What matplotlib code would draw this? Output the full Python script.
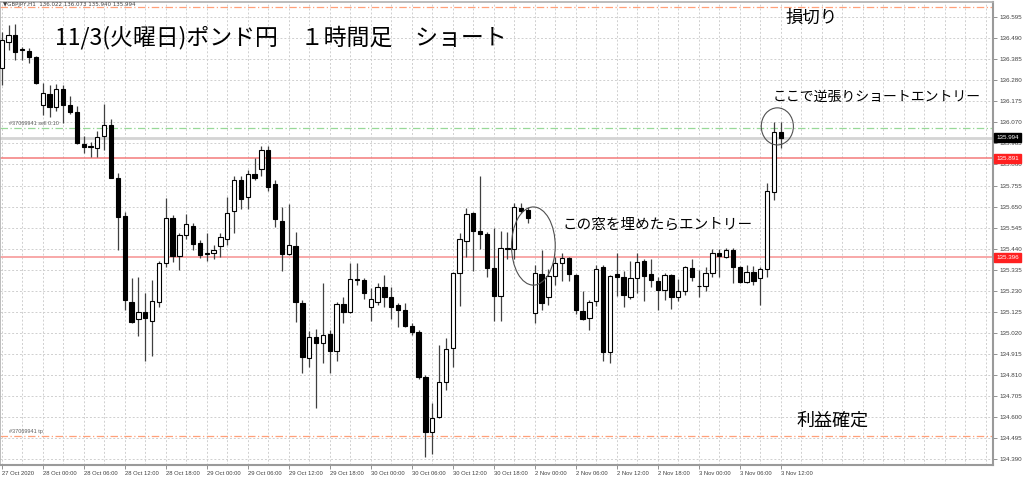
import numpy as np
import matplotlib
matplotlib.use("Agg")
import matplotlib.pyplot as plt
import matplotlib.transforms as mtransforms
from matplotlib.patches import Ellipse

plt.rcParams['font.family'] = ['Noto Sans CJK JP', 'DejaVu Sans']

# GBPJPY H1, 27 Oct 18:00 -> 3 Nov 12:00 (115 bars)
opens = [136.340, 136.473, 136.507, 136.434, 136.428, 136.395, 136.157, 136.211, 136.146, 136.236,
         136.156, 136.122, 135.962, 135.949, 135.944, 136.002, 136.057, 135.794, 135.603, 135.175,
         135.089, 135.122, 135.080, 135.172, 135.367, 135.591, 135.403, 135.507, 135.555, 135.467,
         135.412, 135.420, 135.453, 135.490, 135.630, 135.780, 135.696, 135.810, 135.836, 135.933,
         135.761, 135.580, 135.413, 135.455, 135.167, 134.895, 135.000, 134.967, 135.014, 134.930,
         135.163, 135.122, 135.290, 135.283, 135.147, 135.175, 135.247, 135.200, 135.158, 135.133,
         135.055, 135.025, 134.800, 134.523, 134.598, 134.776, 134.942, 135.317, 135.478, 135.616,
         135.528, 135.512, 135.345, 135.203, 135.440, 135.437, 135.644, 135.633, 135.120, 135.313,
         135.200, 135.304, 135.367, 135.395, 135.308, 135.130, 135.092, 135.178, 135.347, 134.926,
         135.313, 135.297, 135.200, 135.292, 135.378, 135.313, 135.280, 135.233, 135.308, 135.200,
         135.230, 135.342, 135.255, 135.253, 135.320, 135.420, 135.400, 135.434, 135.347, 135.275,
         135.325, 135.292, 135.337, 135.722, 136.022]
highs = [136.523, 136.557, 136.562, 136.448, 136.440, 136.400, 136.265, 136.257, 136.260, 136.257,
         136.200, 136.150, 136.002, 135.974, 136.029, 136.161, 136.086, 135.816, 135.624, 135.292,
         135.300, 135.217, 135.283, 135.380, 135.691, 135.608, 135.517, 135.612, 135.566, 135.483,
         135.517, 135.460, 135.517, 135.700, 135.800, 135.800, 135.830, 135.890, 135.950, 135.950,
         135.783, 135.650, 135.663, 135.525, 135.183, 135.029, 135.037, 135.267, 135.034, 135.175,
         135.200, 135.370, 135.370, 135.292, 135.242, 135.267, 135.308, 135.247, 135.167, 135.167,
         135.070, 135.035, 134.809, 134.668, 134.959, 134.992, 135.325, 135.517, 135.641, 135.625,
         135.800, 135.525, 135.542, 135.530, 135.525, 135.666, 135.666, 135.650, 135.358, 135.433,
         135.340, 135.400, 135.420, 135.400, 135.313, 135.230, 135.183, 135.360, 135.358, 135.308,
         135.417, 135.330, 135.380, 135.417, 135.390, 135.390, 135.300, 135.317, 135.313, 135.290,
         135.355, 135.390, 135.334, 135.350, 135.437, 135.440, 135.445, 135.445, 135.355, 135.360,
         135.355, 135.350, 135.766, 136.074, 136.073]
lows = [136.257, 136.432, 136.382, 136.382, 136.365, 136.262, 136.107, 136.099, 136.125, 136.069,
        136.110, 135.960, 135.919, 135.899, 135.899, 135.932, 135.791, 135.433, 135.134, 135.070,
        135.003, 134.880, 134.904, 135.150, 135.350, 135.375, 135.333, 135.490, 135.433, 135.392,
        135.380, 135.390, 135.400, 135.460, 135.520, 135.640, 135.640, 135.780, 135.800, 135.729,
        135.550, 135.330, 135.410, 135.075, 134.820, 134.850, 134.643, 134.870, 134.820, 134.880,
        135.070, 135.117, 135.260, 135.187, 135.080, 135.158, 135.150, 135.087, 135.047, 135.047,
        135.010, 134.790, 134.400, 134.415, 134.593, 134.734, 134.850, 135.153, 135.400, 135.330,
        135.440, 135.297, 135.080, 135.080, 135.390, 135.390, 135.620, 135.566, 135.067, 135.133,
        135.160, 135.260, 135.280, 135.280, 135.115, 135.083, 135.032, 135.155, 134.880, 134.870,
        135.203, 135.150, 135.190, 135.220, 135.180, 135.250, 135.133, 135.183, 135.140, 135.180,
        135.210, 135.280, 135.197, 135.230, 135.300, 135.300, 135.395, 135.270, 135.270, 135.270,
        135.260, 135.158, 135.300, 135.683, 135.940]
closes = [136.482, 136.507, 136.423, 136.430, 136.395, 136.268, 136.219, 136.149, 136.236, 136.157,
          136.122, 135.966, 135.949, 135.951, 135.999, 136.057, 135.794, 135.599, 135.184, 135.075,
          135.125, 135.092, 135.180, 135.367, 135.591, 135.403, 135.507, 135.562, 135.463, 135.408,
          135.418, 135.432, 135.496, 135.620, 135.780, 135.690, 135.814, 135.790, 135.933, 135.749,
          135.588, 135.412, 135.458, 135.175, 134.900, 134.997, 134.967, 135.010, 134.930, 135.163,
          135.125, 135.287, 135.283, 135.220, 135.187, 135.247, 135.200, 135.147, 135.133, 135.055,
          135.025, 134.800, 134.526, 134.596, 134.776, 134.939, 135.317, 135.488, 135.611, 135.528,
          135.512, 135.345, 135.205, 135.442, 135.442, 135.646, 135.630, 135.592, 135.320, 135.167,
          135.302, 135.367, 135.395, 135.313, 135.133, 135.088, 135.175, 135.337, 134.926, 135.303,
          135.300, 135.208, 135.292, 135.375, 135.303, 135.283, 135.233, 135.308, 135.200, 135.230,
          135.347, 135.300, 135.253, 135.320, 135.417, 135.403, 135.434, 135.350, 135.275, 135.325,
          135.280, 135.337, 135.728, 136.021, 135.994]

tick_idx = list(range(0, 115, 6))
tick_labels = ["27 Oct 2020", "28 Oct 00:00", "28 Oct 06:00", "28 Oct 12:00", "28 Oct 18:00",
               "29 Oct 00:00", "29 Oct 06:00", "29 Oct 12:00", "29 Oct 18:00", "30 Oct 00:00",
               "30 Oct 06:00", "30 Oct 12:00", "30 Oct 18:00", "2 Nov 00:00", "2 Nov 06:00",
               "2 Nov 12:00", "2 Nov 18:00", "3 Nov 00:00", "3 Nov 06:00", "3 Nov 12:00"]
price_ticks = [136.595, 136.490, 136.385, 136.280, 136.175, 136.070, 135.965, 135.860, 135.755,
               135.650, 135.545, 135.440, 135.335, 135.230, 135.125, 135.020, 134.915, 134.810,
               134.705, 134.600, 134.495, 134.390]

entry_price = 136.041
stop_price = 136.648
tp_price = 134.505
bid_price = 135.994
red_levels = [135.891, 135.396]

o = np.array(opens); h = np.array(highs); l = np.array(lows); c = np.array(closes)
x = np.arange(len(o))
up = c >= o

small = 'Liberation Sans'

fig = plt.figure(figsize=(10.24, 4.79), dpi=100)
ax = fig.add_axes([0.0, 0.029, 0.970, 0.967])

# grid
ax.set_xticks(np.arange(0, 146, 3), minor=True)
ax.grid(True, which='both', axis='x', color='#cfcfcf', linestyle=(0, (2, 2)), linewidth=0.7)
ax.grid(True, which='major', axis='y', color='#cfcfcf', linestyle=(0, (2, 2)), linewidth=0.7)
ax.set_axisbelow(True)

# level lines
ax.axhline(stop_price, color='#ffa07a', linestyle=(0, (6, 2, 1, 2)), linewidth=0.9)
ax.axhline(entry_price, color='#98d898', linestyle=(0, (6, 2, 1, 2)), linewidth=0.9)
ax.axhline(tp_price, color='#ffa07a', linestyle=(0, (6, 2, 1, 2)), linewidth=0.9)
ax.axhline(bid_price, color='#d4d4d4', linewidth=2.0)
ax.axhline(red_levels[0], color='#f47a7a', linewidth=1.1)
ax.axhline(red_levels[1], color='#f8a8a8', linewidth=1.4)

# candles
ax.vlines(x, l, h, color='#404040', linewidth=0.9, zorder=3)
body_lo = np.minimum(o, c)
body_h = np.abs(c - o)
ax.bar(x[up], body_h[up], bottom=body_lo[up], width=0.62, facecolor='white',
       edgecolor='black', linewidth=0.8, zorder=4)
ax.bar(x[~up], body_h[~up], bottom=body_lo[~up], width=0.62, facecolor='black',
       edgecolor='black', linewidth=0.8, zorder=4)

ax.set_xlim(-0.25, 145.1)
ax.set_ylim(134.360, 136.671)

ax.set_xticks(tick_idx)
ax.set_xticklabels(tick_labels, ha='left', fontsize=4.2, color='#404040', family=small)
ax.tick_params(axis='x', which='major', length=3, width=0.6, color='#808080', pad=1.5)
ax.tick_params(axis='x', which='minor', length=0)

ax.yaxis.tick_right()
ax.set_yticks(price_ticks)
ax.set_yticklabels([f"{v:.3f}" for v in price_ticks], fontsize=4.5, color='#404040', family=small)
ax.tick_params(axis='y', length=3, width=0.6, color='#808080', pad=1.5)

for s in ['left', 'top']:
    ax.spines[s].set_color('#b0b0b0')
    ax.spines[s].set_linewidth(1.2)
for s in ['right', 'bottom']:
    ax.spines[s].set_color('#9a9a9a')
    ax.spines[s].set_linewidth(1.5)

# price boxes on the right axis
trans = mtransforms.blended_transform_factory(ax.transAxes, ax.transData)
ax.text(1.003, bid_price, f"{bid_price:.3f}", transform=trans, fontsize=4.5, color='white',
        va='center', ha='left', family=small,
        bbox=dict(boxstyle='square,pad=0.3', facecolor='black', edgecolor='black'))
for lv in red_levels:
    ax.text(1.003, lv, f"{lv:.3f}", transform=trans, fontsize=4.5, color='white',
            va='center', ha='left', family=small,
            bbox=dict(boxstyle='square,pad=0.3', facecolor='#ff2020', edgecolor='#ff2020'))

# order labels
ax.text(1.0, entry_price + 0.012, "#37069941 sell 0.10", fontsize=4, color='#606060',
        va='bottom', ha='left', family=small)
ax.text(1.0, tp_price + 0.012, "#37069941 tp", fontsize=4, color='#606060',
        va='bottom', ha='left', family=small)
fig.text(0.003, 0.990, "\u25bcGBPJPY,H1  136.022 136.073 135.940 135.994", fontsize=4,
         color='#404040', va='center', ha='left', family=['DejaVu Sans'])

# ellipses around the gap and the entry
gap_i = 77.8
ax.add_patch(Ellipse((gap_i, 135.453), 6.4, 0.39, fill=False, edgecolor='#505050', linewidth=0.8, zorder=5))
ax.add_patch(Ellipse((113.5, 136.050), 4.7, 0.185, fill=False, edgecolor='#505050', linewidth=0.8, zorder=5))

# annotations
fig.text(0.054, 0.922, "11/3(火曜日)ポンド円　１時間足　ショート", fontsize=16.5, va='center', ha='left')
fig.text(0.767, 0.962, "損切り", fontsize=12.5, va='center', ha='left')
fig.text(0.755, 0.797, "ここで逆張りショートエントリー", fontsize=10, va='center', ha='left')
fig.text(0.549, 0.532, "この窓を埋めたらエントリー", fontsize=10.5, va='center', ha='left')
fig.text(0.778, 0.121, "利益確定", fontsize=13, va='center', ha='left')

fig.savefig("out.png", dpi=100)
